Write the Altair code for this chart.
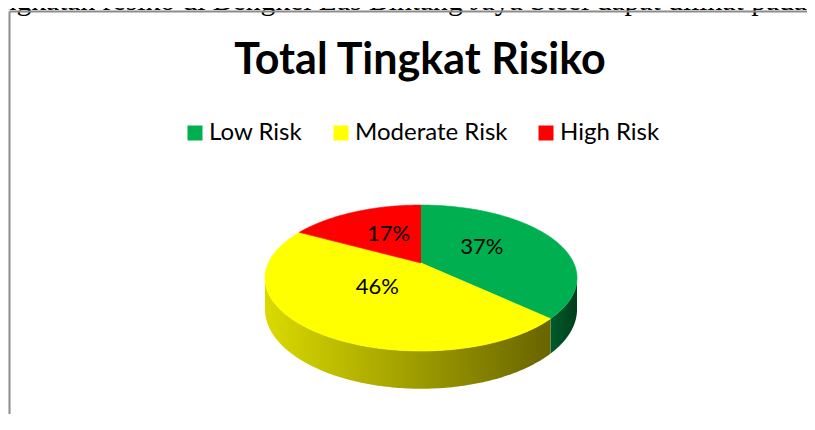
import altair as alt
import pandas as pd

# ---- data ----
categories = ["Low Risk", "Moderate Risk", "High Risk"]
percent = [37, 46, 17]
top_colors = ["#00B050", "#FFFF00", "#FF0000"]
side_light = ["#005C2C", "#DADA00", "#B00000"]
side_dark = ["#003D1B", "#686400", "#600000"]
chart_title = ["Total Tingkat Risiko"]
context_line = ["tingkatan resiko di Bengkel Las Bintang Jaya Steel dapat dilihat pada"]

# ---- layout (svg pixel space, page = svg + 8) ----
W, H = 799, 406
CX, CY0 = 413, 255       # projected centre (apex) of the disc
A0, B0 = 152.7, 69.9     # disc radii before perspective division
K = 0.2055               # perspective strength
D0 = 30                  # thickness of the 3D side
N = 140                  # points per arc
LR = 0.45                # label radius fraction

df = pd.DataFrame({"category": categories, "value": percent, "order": list(range(len(categories)))})

xs = alt.Scale(domain=[0, W], nice=False, zero=False)
ys = alt.Scale(domain=[0, H], nice=False, zero=False, reverse=True)
color_scale = alt.Scale(domain=categories, range=top_colors)

base = (
    alt.Chart(df)
    .transform_window(cum="sum(value)", sort=[alt.SortField("order")], frame=[None, 0])
    .transform_joinaggregate(total="sum(value)")
    .transform_calculate(a_end="PI/2 - 2*PI*datum.cum/datum.total")
    .transform_calculate(a_start="datum.a_end + 2*PI*datum.value/datum.total")
)

X = alt.X("px:Q", scale=xs, axis=None)
Y = alt.Y("py:Q", scale=ys, axis=None)

# ---- 3D side walls (visible front part only) ----
sides = []
for cat, c1, c2 in zip(categories, side_light, side_dark):
    grad = alt.Gradient(
        gradient="linear",
        stops=[alt.GradientStop(color=c1, offset=0), alt.GradientStop(color=c2, offset=1)],
        x1=0, x2=1, y1=0, y2=0,
    )
    s = (
        base.transform_filter(alt.datum.category == cat)
        .transform_calculate(s1=f"min(datum.a_start, -asin({K}))")
        .transform_calculate(s2=f"max(datum.a_end, -PI + asin({K}))")
        .transform_filter("datum.s1 > datum.s2")
        .transform_calculate(k=f"sequence(0, {2 * N + 2})")
        .transform_flatten(["k"])
        .transform_calculate(
            t=f"datum.k <= {N} ? datum.s1 + (datum.s2 - datum.s1)*datum.k/{N} : datum.s2 + (datum.s1 - datum.s2)*(datum.k-{N + 1})/{N}"
        )
        .transform_calculate(w=f"1 + {K}*sin(datum.t)")
        .transform_calculate(dd=f"datum.k <= {N} ? 0 : {D0}/datum.w")
        .transform_calculate(px=f"{CX} + {A0}*cos(datum.t)/datum.w")
        .transform_calculate(py=f"{CY0} - {B0}*sin(datum.t)/datum.w + datum.dd")
        .mark_line(fill=grad, strokeOpacity=0)
        .encode(x=X, y=Y, order=alt.Order("k:Q"), detail="category:N")
    )
    sides.append(s)

# ---- top face of the pie ----
top = (
    base.transform_calculate(k=f"sequence(0, {N + 2})")
    .transform_flatten(["k"])
    .transform_calculate(t=f"datum.a_start + (datum.a_end - datum.a_start)*(datum.k-1)/{N}")
    .transform_calculate(w=f"1 + {K}*sin(datum.t)")
    .transform_calculate(px=f"datum.k == 0 ? {CX} : {CX} + {A0}*cos(datum.t)/datum.w")
    .transform_calculate(py=f"datum.k == 0 ? {CY0} : {CY0} - {B0}*sin(datum.t)/datum.w")
    .mark_line(strokeWidth=0.6)
    .encode(
        x=X,
        y=Y,
        order=alt.Order("k:Q"),
        detail="category:N",
        fill=alt.Fill(
            "category:N",
            scale=color_scale,
            legend=alt.Legend(
                orient="none", legendX=175, legendY=113, direction="horizontal",
                title=None, symbolType="square", symbolSize=225, symbolStrokeWidth=0,
                labelFont="Lato", labelFontSize=24, labelColor="black",
                labelOffset=2, columnPadding=26, padding=0, labelLimit=300,
            ),
        ),
        stroke=alt.Stroke("category:N", scale=color_scale, legend=None),
    )
)

# ---- percentage labels ----
labels = (
    base.transform_calculate(m="(datum.a_start + datum.a_end)/2")
    .transform_calculate(w=f"1 + {K}*{LR}*sin(datum.m)")
    .transform_calculate(px=f"{CX} + {LR}*{A0}*cos(datum.m)/datum.w")
    .transform_calculate(py=f"{CY0} - {LR}*{B0}*sin(datum.m)/datum.w")
    .transform_calculate(lab="format(datum.value/datum.total, '.0%')")
    .mark_text(font="Lato", fontSize=22, color="black", dy=-4)
    .encode(x=X, y=Y, text="lab:N")
)

# ---- title ----
title = (
    alt.Chart(pd.DataFrame({"t": chart_title}))
    .mark_text(font="Lato", fontWeight="bold", fontSize=43, color="black",
               align="center", baseline="alphabetic")
    .encode(x=alt.value(412), y=alt.value(66), text="t:N")
)

# ---- document context line above the chart box ----
context = (
    alt.Chart(pd.DataFrame({"t": context_line}))
    .mark_text(font="Liberation Serif", fontSize=29.6, color="black",
               align="right", baseline="alphabetic")
    .encode(x=alt.value(799), y=alt.value(2), text="t:N")
)

# ---- chart box border (left and top edges) ----
border_top = alt.Chart(pd.DataFrame({"v": [0]})).mark_rule(color="#8C8C8C", strokeWidth=2).encode(
    x=alt.value(1.5), x2=alt.value(W), y=alt.value(3.5)
)
border_left = alt.Chart(pd.DataFrame({"v": [0]})).mark_rule(color="#8C8C8C", strokeWidth=2).encode(
    x=alt.value(1.5), y=alt.value(3.5), y2=alt.value(H)
)

chart = (
    alt.layer(*sides, top, labels, title, context, border_top, border_left)
    .properties(width=W, height=H, autosize=alt.AutoSizeParams(type="none"), padding=0,
                background="white")
    .configure_view(strokeWidth=0)
)

chart.save("out.html", embed_options={"renderer": "svg", "actions": False})
